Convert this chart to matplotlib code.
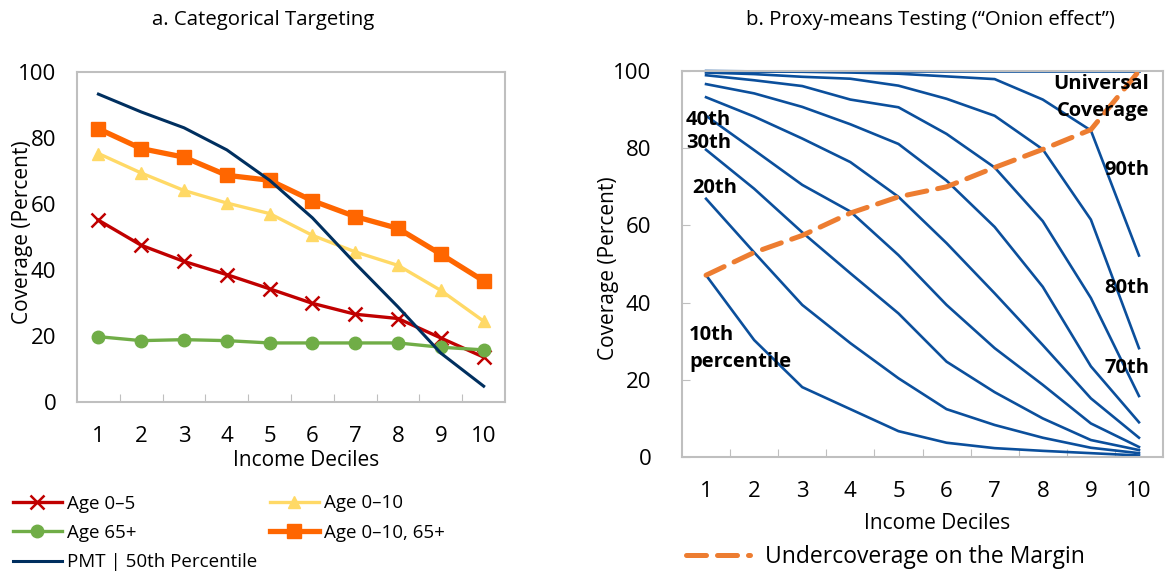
import matplotlib
matplotlib.use("Agg")
import matplotlib.pyplot as plt
from matplotlib.lines import Line2D

plt.rcParams['font.family'] = ['Open Sans', 'DejaVu Sans']

deciles = [1, 2, 3, 4, 5, 6, 7, 8, 9, 10]

# panel a: categorical targeting
age_0_5 = [55.1, 47.5, 42.6, 38.6, 34.3, 29.9, 26.6, 25.3, 19.4, 13.6]
age_0_10 = [75.3, 69.4, 64.1, 60.3, 57.1, 50.5, 45.5, 41.4, 33.8, 24.5]
age_65 = [19.8, 18.6, 18.9, 18.6, 17.9, 17.9, 17.9, 17.9, 16.6, 15.8]
age_0_10_65 = [82.8, 76.8, 74.2, 68.7, 67.2, 61.0, 56.2, 52.6, 44.8, 36.7]
pmt_50 = [93.3, 87.9, 83.1, 76.4, 67.2, 55.8, 42.0, 28.8, 14.8, 4.8]

# panel b: proxy-means testing, coverage by PMT cutoff percentile
p10 = [47.1, 30.3, 18.1, 12.4, 6.7, 3.7, 2.3, 1.6, 1.0, 0.4]
p20 = [66.9, 53.0, 39.4, 29.5, 20.4, 12.4, 8.3, 5.0, 2.4, 1.0]
p30 = [79.6, 69.5, 58.2, 47.6, 37.2, 24.7, 16.8, 10.0, 4.4, 1.8]
p40 = [88.4, 79.5, 70.5, 63.6, 52.3, 39.4, 28.2, 18.7, 8.7, 2.6]
p50 = [93.2, 88.2, 82.5, 76.4, 67.4, 55.4, 42.4, 29.0, 15.2, 5.0]
p60 = [96.6, 94.2, 90.7, 86.2, 81.1, 71.6, 59.6, 44.1, 23.5, 9.0]
p70 = [98.9, 97.6, 96.1, 92.6, 90.6, 83.7, 75.0, 61.1, 41.2, 15.8]
p80 = [99.6, 99.2, 98.5, 98.0, 96.2, 92.8, 88.4, 79.7, 61.5, 28.2]
p90 = [100.0, 99.9, 99.8, 99.6, 99.3, 98.6, 97.9, 92.6, 84.6, 52.2]
p100 = [100, 100, 100, 100, 100, 100, 100, 100, 100, 100]
margin = [47.1, 53.0, 57.4, 63.2, 67.4, 70.0, 75.0, 79.7, 84.8, 100.0]

pct_curves = [p10, p20, p30, p40, p50, p60, p70, p80, p90, p100]

fig = plt.figure(figsize=(11.67, 5.73), dpi=100)
spine_col = '#BFBFBF'
tick_fs = 16
lab_fs = 15


def style_axis(ax, ypad, ytick_len):
    ax.set_xlim(0.5, 10.5)
    ax.set_ylim(0, 100)
    ax.set_yticks([0, 20, 40, 60, 80, 100])
    ax.tick_params(axis='y', direction='in', length=ytick_len, color=spine_col,
                   pad=ypad, labelsize=tick_fs)
    # tick marks between categories, labels at category centres
    ax.set_xticks([i + 0.5 for i in range(1, 10)])
    ax.set_xticklabels([])
    ax.tick_params(axis='x', which='major', direction='in', length=6, color=spine_col)
    ax.set_xticks(deciles, minor=True)
    ax.set_xticklabels([str(d) for d in deciles], minor=True)
    ax.tick_params(axis='x', which='minor', length=0, pad=17.5, labelsize=tick_fs)
    for s in ax.spines.values():
        s.set_color(spine_col)
        s.set_linewidth(1.5)


# ---------- panel a ----------
ax1 = fig.add_axes([0.066, 0.2984, 0.3668, 0.5759])
ax1.plot(deciles, age_0_5, color='#C00000', lw=2.4, marker='x', ms=10, mew=1.8, label='Age 0–5')
ax1.plot(deciles, age_0_10, color='#FFD966', lw=2.4, marker='^', ms=9, label='Age 0–10')
ax1.plot(deciles, age_65, color='#70AD47', lw=2.4, marker='o', ms=9, label='Age 65+')
ax1.plot(deciles, age_0_10_65, color='#FF6600', lw=3.8, marker='s', ms=10, label='Age 0–10, 65+')
ax1.plot(deciles, pmt_50, color='#002F5F', lw=2.2, label='PMT | 50th Percentile')
style_axis(ax1, 15, 0)
ax1.set_xlabel('Income Deciles', fontsize=lab_fs, va='center')
ax1.xaxis.set_label_coords(0.535, -0.176)
ax1.set_ylabel('Coverage (Percent)', fontsize=lab_fs, va='center')
ax1.yaxis.set_label_coords(-0.128, 0.515)

h, l = ax1.get_legend_handles_labels()
leg_kw = dict(frameon=False, fontsize=13.5, handlelength=2.6, handletextpad=0.3,
              labelspacing=0.6, borderpad=0, borderaxespad=0, loc='center left')
fig.legend([h[0], h[2], h[4]], [l[0], l[2], l[4]],
           bbox_to_anchor=(0.011, 1 - 533 / 573), **leg_kw)
fig.legend([h[1], h[3]], [l[1], l[3]],
           bbox_to_anchor=(0.2314, 1 - 518 / 573), **leg_kw)

fig.text(0.2254, 0.965, 'a. Categorical Targeting', ha='center', va='center', fontsize=14.7)

# ---------- panel b ----------
ax2 = fig.add_axes([0.5844, 0.2024, 0.4122, 0.6737])
for curve in pct_curves:
    ax2.plot(deciles, curve, color='#0B4F9C', lw=1.9, clip_on=False)
ax2.plot(deciles, margin, color='#ED7D31', lw=3.6, ls=(0, (4, 2.2)), clip_on=False,
         dash_capstyle='round')
style_axis(ax2, 22, 6)
ax2.set_xlabel('Income Deciles', fontsize=lab_fs, va='center')
ax2.xaxis.set_label_coords(0.53, -0.171)
ax2.set_ylabel('Coverage (Percent)', fontsize=lab_fs, va='center')
ax2.yaxis.set_label_coords(-0.152, 0.49)

lab = dict(fontsize=14.5, fontweight='bold', color='black')
ax2.text(10.21, 96.6, 'Universal', ha='right', va='center', **lab)
ax2.text(10.21, 89.6, 'Coverage', ha='right', va='center', **lab)
ax2.text(10.21, 74.4, '90th', ha='right', va='center', **lab)
ax2.text(10.21, 43.8, '80th', ha='right', va='center', **lab)
ax2.text(10.21, 23.1, '70th', ha='right', va='center', **lab)
ax2.text(0.58, 87.3, '40th', ha='left', va='center', **lab)
ax2.text(0.58, 81.3, '30th', ha='left', va='center', **lab)
ax2.text(0.72, 69.7, '20th', ha='left', va='center', **lab)
ax2.text(0.65, 31.6, '10th', ha='left', va='center', **lab)
ax2.text(0.65, 24.6, 'percentile', ha='left', va='center', **lab)

fig.legend([Line2D([], [], color='#ED7D31', lw=3.6, ls=(0, (4, 2.2)), dash_capstyle='round')],
           ['Undercoverage on the Margin'], loc='center left',
           bbox_to_anchor=(0.588, 1 - 557 / 573), frameon=False, fontsize=16.5,
           handlelength=2.8, handletextpad=0.65, borderpad=0, borderaxespad=0)

fig.text(0.797, 0.965, 'b. Proxy-means Testing (“Onion effect”)', ha='center', va='center', fontsize=14.7)

fig.savefig('out.png', dpi=100)
